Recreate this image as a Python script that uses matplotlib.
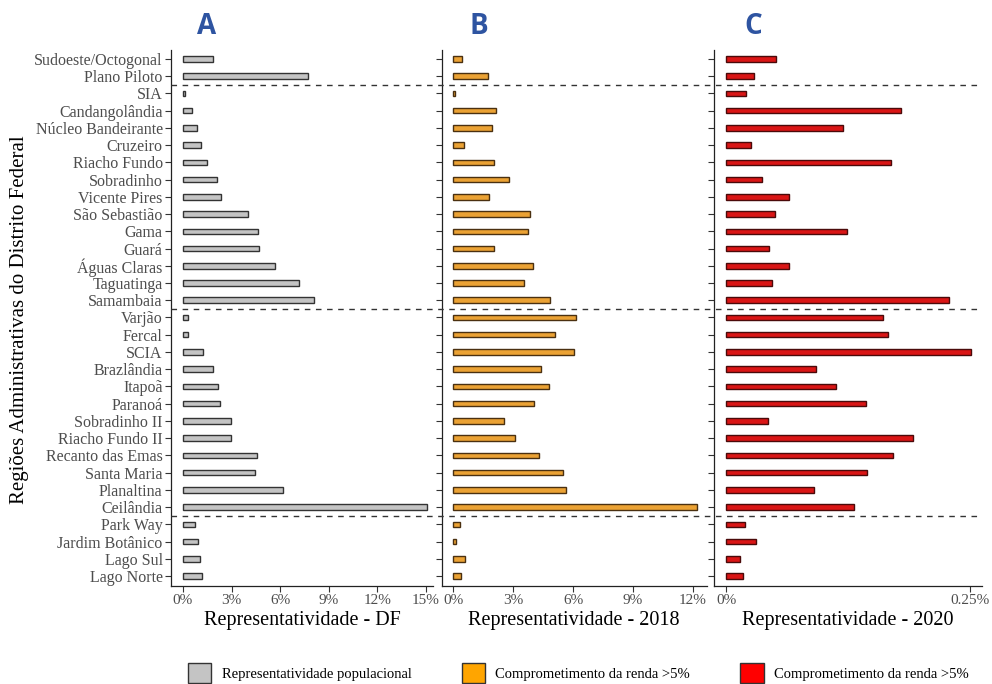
import numpy as np
import matplotlib.pyplot as plt
from matplotlib.lines import Line2D
from matplotlib.patches import Patch
from matplotlib.transforms import blended_transform_factory

plt.rcParams['font.family'] = ['Liberation Serif', 'DejaVu Serif']

# Administrative regions, top to bottom
regions = ["Sudoeste/Octogonal", "Plano Piloto",
           "SIA", "Candangolândia", "Núcleo Bandeirante", "Cruzeiro", "Riacho Fundo",
           "Sobradinho", "Vicente Pires", "São Sebastião", "Gama", "Guará",
           "Águas Claras", "Taguatinga", "Samambaia",
           "Varjão", "Fercal", "SCIA", "Brazlândia", "Itapoã", "Paranoá", "Sobradinho II",
           "Riacho Fundo II", "Recanto das Emas", "Santa Maria", "Planaltina", "Ceilândia",
           "Park Way", "Jardim Botânico", "Lago Sul", "Lago Norte"]
group_sizes = [2, 13, 12, 4]  # income groups separated by dashed lines

# Representatividade - DF (%)
pop_df = [1.87, 7.70, 0.10, 0.58, 0.84, 1.13, 1.46, 2.08, 2.35, 3.99, 4.61, 4.69, 5.66,
          7.16, 8.10, 0.29, 0.29, 1.26, 1.87, 2.14, 2.28, 2.98, 2.98, 4.55, 4.47, 6.19,
          15.04, 0.72, 0.93, 1.07, 1.19]
# Representatividade - 2018 (%)
rep_2018 = [0.47, 1.73, 0.08, 2.13, 1.92, 0.57, 2.02, 2.80, 1.80, 3.85, 3.73, 2.02, 3.97,
            3.52, 4.85, 6.12, 5.07, 6.02, 4.40, 4.80, 4.02, 2.52, 3.08, 4.30, 5.47, 5.63,
            12.18, 0.35, 0.13, 0.58, 0.42]
# Representatividade - 2020 (%)
rep_2020 = [0.0507, 0.0287, 0.0199, 0.1789, 0.1194, 0.0253, 0.1686, 0.0369, 0.0643,
            0.0496, 0.1238, 0.0438, 0.0643, 0.0472, 0.2288, 0.1604, 0.1659, 0.2507,
            0.0917, 0.1125, 0.1433, 0.0428, 0.1912, 0.1707, 0.1446, 0.0897, 0.1307,
            0.0189, 0.0302, 0.0141, 0.0174]

xticks_a = [0, 3, 6, 9, 12, 15]
xticks_b = [0, 3, 6, 9, 12]
xticks_c = [0, 0.25]
xlabels = ["Representatividade - DF", "Representatividade - 2018", "Representatividade - 2020"]
panel_tags = ["A", "B", "C"]
legend_labels = ["Representatividade populacional", "Comprometimento da renda >5%",
                 "Comprometimento da renda >5%"]

bar_colors = ["#C4C4C4", "#EBA234", "#DA1515"]
edge_colors = ["#333333", "#4A3010", "#4A0A0A"]
legend_colors = ["#C4C4C4", "#FFA500", "#FF0000"]

fig = plt.figure(figsize=(9.92, 6.84), dpi=100)
W, H = 992, 684
boxes = [(171, 433), (441.7, 706.7), (714.3, 981.7)]
top_px, bot_px = 50, 586
axes = [fig.add_axes([l / W, 1 - bot_px / H, (r - l) / W, (bot_px - top_px) / H])
        for l, r in boxes]

y = np.arange(len(regions))
series = [pop_df, rep_2018, rep_2020]
xlims = [(-0.74, 15.43), (-0.57, 12.68), (-0.0123, 0.262)]
tick_sets = [xticks_a, xticks_b, xticks_c]

for i, ax in enumerate(axes):
    ax.barh(y, series[i], height=0.32, color=bar_colors[i], edgecolor=edge_colors[i],
            linewidth=1.0)
    ax.set_ylim(len(regions) - 1 + 0.58, -0.52)
    ax.set_xlim(*xlims[i])
    ax.set_yticks(y)
    if i == 0:
        ax.set_yticklabels(regions, fontsize=11.5, color="#4D4D4D")
    else:
        ax.set_yticklabels([])
    ax.set_xticks(tick_sets[i])
    ax.set_xticklabels([f"{t:g}%" for t in tick_sets[i]], fontsize=11, color="#4D4D4D")
    ax.tick_params(axis="both", length=4, width=0.8, color="#333333", pad=2)
    for s in ["top", "right"]:
        ax.spines[s].set_visible(False)
    for s in ["left", "bottom"]:
        ax.spines[s].set_linewidth(0.9)
        ax.spines[s].set_color("#222222")
    ax.set_xlabel(xlabels[i], fontsize=14.5, labelpad=3)
    cx = (boxes[i][0] + boxes[i][1]) / 2
    fig.text((cx - 95) / W, 1 - 26 / H, panel_tags[i], fontsize=20, fontweight="bold",
             color="#2E54A1", family="Open Sans", ha="center", va="center")

# dashed separators between groups, across all panels
trans = blended_transform_factory(fig.transFigure, axes[0].transData)
for b in np.cumsum(group_sizes)[:-1]:
    fig.add_artist(Line2D([boxes[0][0] / W, boxes[2][1] / W], [b - 0.5, b - 0.5],
                          transform=trans, color="#333333", linewidth=1.0,
                          linestyle=(0, (4, 4))))

fig.text(20 / W, 1 - 320 / H, "Regiões Administrativas do Distrito Federal",
         rotation=90, fontsize=15, ha="center", va="center")

handles = [Patch(facecolor=c, edgecolor="#333333", linewidth=1.0) for c in legend_colors]
fig.legend(handles, legend_labels, loc="center", bbox_to_anchor=(0.583, 1 - 673 / H),
           ncol=3, frameon=False, fontsize=10.5, handlelength=1.6, handleheight=1.7,
           handletextpad=0.7, columnspacing=3.45)

fig.savefig("out.png", dpi=100)
